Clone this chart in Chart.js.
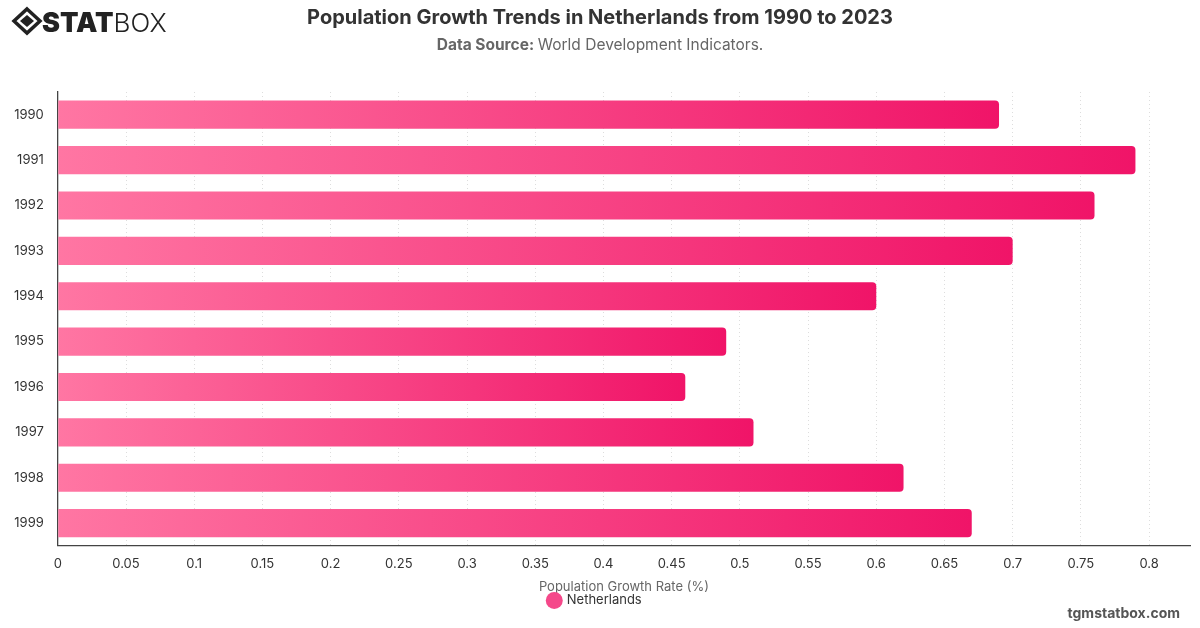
<!DOCTYPE html>
<html><head><meta charset="utf-8">
<script src="https://cdn.jsdelivr.net/npm/chart.js@4/dist/chart.umd.min.js"></script>
<style>html,body{margin:0;padding:0;background:#fff}#wrap{width:1200px;height:628px;position:relative}</style>
</head><body><div id="wrap"><canvas id="c" width="1200" height="628"></canvas></div>
<script>
const categories = ['1990','1991','1992','1993','1994','1995','1996','1997','1998','1999'];
const growthRates = [0.69, 0.79, 0.76, 0.70, 0.60, 0.49, 0.46, 0.51, 0.62, 0.67];
const xTickValues = [0, 0.05, 0.1, 0.15, 0.2, 0.25, 0.3, 0.35, 0.4, 0.45, 0.5, 0.55, 0.6, 0.65, 0.7, 0.75, 0.8];
const seriesName = 'Netherlands';
const titleText = 'Population Growth Trends in Netherlands from 1990 to 2023';
const sourceLabel = 'Data Source:';
const sourceText = 'World Development Indicators.';
const axisTitle = 'Population Growth Rate (%)';
const watermark = 'tgmstatbox.com';

const FONT = 'Inter, "Liberation Sans", Arial, sans-serif';

function barColor(ctx) {
  const chart = ctx.chart;
  const x = chart.scales && chart.scales.x;
  if (!chart.chartArea || !x || ctx.type !== 'data') return '#f53d7f';
  const x0 = x.getPixelForValue(0);
  const x1 = x.getPixelForValue(ctx.raw);
  const g = chart.ctx.createLinearGradient(x0, 0, x1, 0);
  g.addColorStop(0, '#ff76a3');
  g.addColorStop(1, '#f01468');
  return g;
}

const decor = {
  id: 'decor',
  afterDraw(chart) {
    const c = chart.ctx;
    c.save();
    c.fillStyle = '#333';
    c.textAlign = 'center';
    c.textBaseline = 'middle';
    c.font = 'bold 20px ' + FONT;
    c.fillText(titleText, 600, 18);
    c.font = 'bold 15.5px ' + FONT;
    const w1 = c.measureText(sourceLabel + ' ').width;
    c.font = '15.5px ' + FONT;
    const w2 = c.measureText(sourceText).width;
    const sx = 600 - (w1 + w2) / 2;
    c.textAlign = 'left';
    c.fillStyle = '#666';
    c.font = 'bold 15.5px ' + FONT;
    c.fillText(sourceLabel + ' ', sx, 45);
    c.font = '15.5px ' + FONT;
    c.fillText(sourceText, sx + w1, 45);
    c.textAlign = 'right';
    c.fillStyle = '#555';
    c.font = 'bold 14px ' + FONT;
    c.fillText(watermark, 1180, 614);
    c.fillStyle = '#222';
    c.strokeStyle = '#222';
    const cx = 27, cy = 21;
    c.lineWidth = 3.5;
    c.beginPath();
    c.moveTo(cx, cy - 12); c.lineTo(cx + 13, cy); c.lineTo(cx, cy + 12); c.lineTo(cx - 13, cy); c.closePath();
    c.stroke();
    c.beginPath();
    c.moveTo(cx, cy - 6); c.lineTo(cx + 7, cy); c.lineTo(cx, cy + 6); c.lineTo(cx - 7, cy); c.closePath();
    c.fill();
    c.textAlign = 'left';
    c.textBaseline = 'alphabetic';
    c.font = '900 27px ' + FONT;
    c.fillText('STAT', 42, 32);
    const sw = c.measureText('STAT').width;
    c.font = '300 26px ' + FONT;
    c.fillText('BOX', 42 + sw, 32);
    c.restore();
  }
};

new Chart(document.getElementById('c'), {
  type: 'bar',
  data: {
    labels: categories,
    datasets: [{
      label: seriesName,
      data: growthRates,
      backgroundColor: barColor,
      borderRadius: 4,
      borderSkipped: 'start',
      barPercentage: 0.62,
      categoryPercentage: 1.0
    }]
  },
  options: {
    indexAxis: 'y',
    responsive: false,
    animation: false,
    layout: { padding: { top: 92, left: 0, right: 10, bottom: 11 } },
    scales: {
      x: {
        min: 0,
        max: 0.83,
        afterBuildTicks(axis) {
          axis.ticks = xTickValues.map(v => ({ value: v }));
        },
        ticks: {
          color: '#333', padding: 10, font: { family: FONT, size: 13 },
          callback: v => String(+Number(v).toFixed(2))
        },
        grid: { color: '#ddd', lineWidth: 1, drawTicks: false },
        border: { color: '#444', width: 1.3, dash: [1, 3] },
        title: { display: true, text: axisTitle, color: '#666', font: { family: FONT, size: 13 }, padding: { top: -2, bottom: -3 } }
      },
      y: {
        ticks: { color: '#333', padding: 14, font: { family: FONT, size: 13 } },
        grid: { display: false, drawTicks: false },
        border: { color: '#444', width: 1.3 }
      }
    },
    plugins: {
      legend: {
        position: 'bottom',
        labels: {
          usePointStyle: true,
          pointStyle: 'circle',
          boxWidth: 12,
          boxHeight: 12,
          padding: 2,
          color: '#333',
          font: { family: FONT, size: 13 },
          generateLabels(chart) {
            return [{ text: seriesName, fillStyle: '#f5488a', strokeStyle: '#f5488a', lineWidth: 0, pointStyle: 'circle', datasetIndex: 0, fontColor: '#333' }];
          }
        }
      },
      title: { display: false },
      tooltip: { enabled: false }
    }
  },
  plugins: [decor]
});
</script></body></html>
